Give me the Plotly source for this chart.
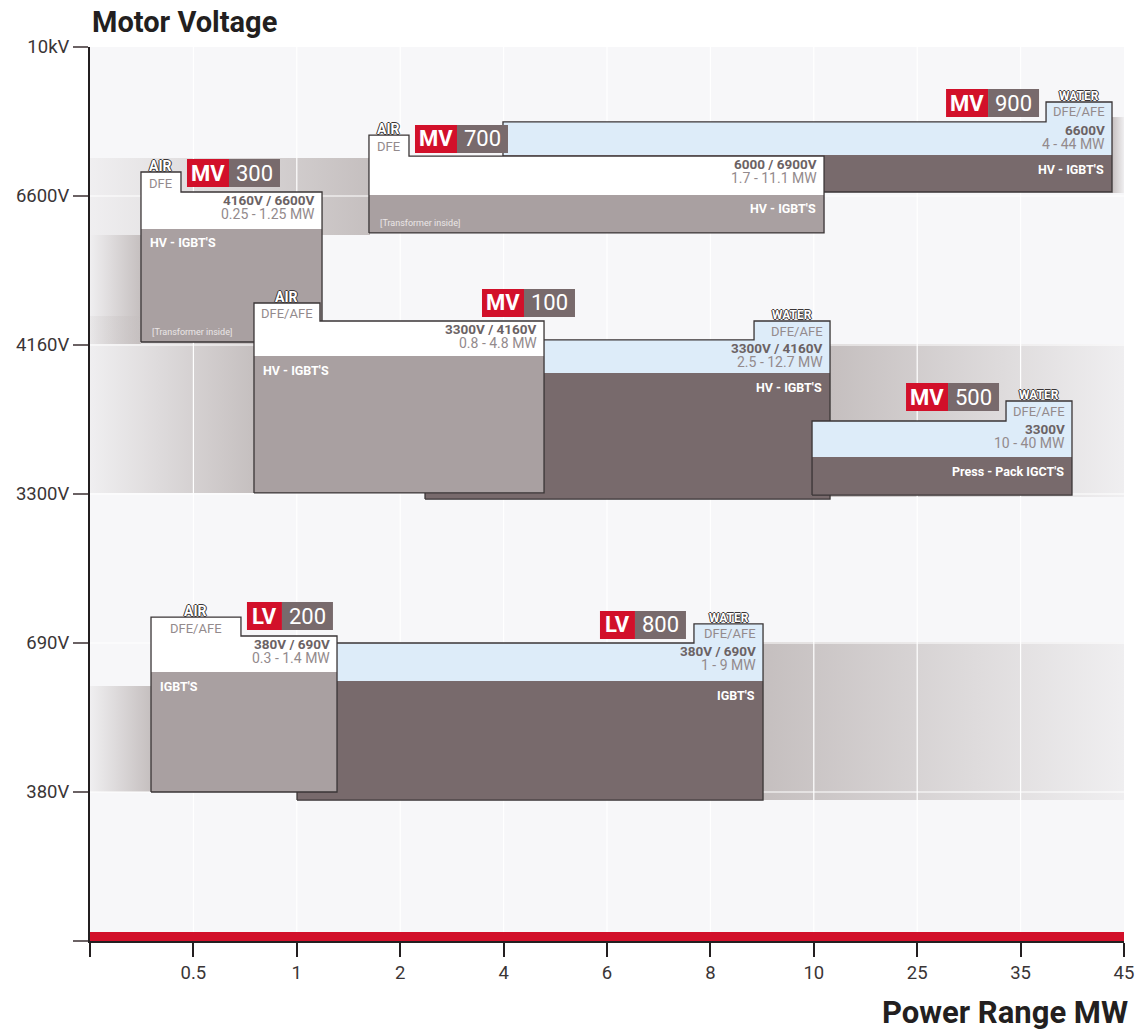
import plotly.graph_objects as go

# ---------------- axis categories ----------------
x_tick_labels = ["", "0.5", "1", "2", "4", "6", "8", "10", "25", "35", "45"]
y_tick_labels = ["", "380V", "690V", "3300V", "4160V", "6600V", "10kV"]

# ---------------- drive families (back to front) ----------------
# positions are expressed on the index scales of the two axes
series    = ["MV", "MV", "MV", "", "MV", "MV", "LV", "LV"]
model     = ["900", "700", "300", "", "100", "500", "800", "200"]
cooling   = ["WATER", "AIR", "AIR", "WATER", "AIR", "WATER", "WATER", "AIR"]
front_end = ["DFE/AFE", "DFE", "DFE", "DFE/AFE", "DFE/AFE", "DFE/AFE", "DFE/AFE", "DFE/AFE"]
motor_v   = ["6600V", "6000 / 6900V", "4160V / 6600V", "3300V / 4160V", "3300V / 4160V",
             "3300V", "380V / 690V", "380V / 690V"]
power     = ["4 - 44 MW", "1.7 - 11.1 MW", "0.25 - 1.25 MW", "2.5 - 12.7 MW", "0.8 - 4.8 MW",
             "10 - 40 MW", "1 - 9 MW", "0.3 - 1.4 MW"]
semis     = ["HV - IGBT'S", "HV - IGBT'S", "HV - IGBT'S", "HV - IGBT'S", "HV - IGBT'S",
             "Press - Pack IGCT'S", "IGBT'S", "IGBT'S"]
semis_side = ["right", "right", "left", "right", "left", "right", "right", "left"]
note      = ["", "[Transformer inside]", "[Transformer inside]", "", "", "", "", ""]

x_start  = [3.994, 2.698, 0.493, 3.240, 1.586, 6.983, 2.002, 0.590]
x_end    = [9.884, 7.099, 2.244, 7.157, 4.391, 9.497, 6.509, 2.389]
x_tab    = [9.246, 3.085, 0.880, 6.422, 2.224, 8.859, 5.841, 1.460]
y_tab    = [5.631, 5.409, 5.161, 4.161, 4.282, 3.624, 2.128, 2.174]
y_top    = [5.497, 5.268, 5.027, 4.034, 4.161, 3.490, 2.000, 2.047]
y_mid    = [5.275, 5.007, 4.779, 3.812, 3.926, 3.248, 1.745, 1.805]
y_bottom = [5.027, 4.752, 4.020, 2.966, 3.007, 2.993, 0.946, 1.000]
badge_x  = [8.279, 3.143, 0.938, None, 3.791, 7.892, 4.932, 1.518]
badge_y  = [5.530, 5.289, 5.060, None, 4.188, 3.557, 2.027, 2.087]

# ---------------- shaded coverage bands ----------------
band_x0 = [0.0, 9.884, 0.0, 0.0, 7.157, 0.0, 6.509]
band_x1 = [2.708, 10.0, 0.493, 1.596, 10.0, 0.590, 10.0]
band_y0 = [4.738, 5.020, 4.007, 3.007, 2.980, 1.000, 0.946]
band_y1 = [5.255, 5.530, 4.738, 4.195, 4.007, 1.711, 2.007]
band_dark_side = ["right", "left", "right", "right", "left", "right", "left"]

# ---------------- style ----------------
W, H = 1138, 1034
ML, MR, MT, MB = 90, 14, 47, 93
PX_X = (W - ML - MR) / (len(x_tick_labels) - 1)
PX_Y = (H - MT - MB) / (len(y_tick_labels) - 1)
def dx(p): return p / PX_X
def dy(p): return p / PX_Y

FONT = "Roboto, 'Open Sans', sans-serif"
DARK = "#231f20"
OUTLINE = "#3a3536"
RED = "#d2102a"
BADGE_GRAY = "#786a6c"
LIGHT_BOX = "#a9a0a1"
DARK_BOX = "#786a6c"
BLUE = "#ddecf9"
SPEC = "#6b6264"
SPEC2 = "#938a8c"
BAND = "197,191,191"

fig = go.Figure()

def add_poly(xs, ys, fill=None, line_color=None, width=0, gradient=None):
    kw = dict(x=list(xs) + [xs[0]], y=list(ys) + [ys[0]], mode="lines",
              hoverinfo="skip", showlegend=False,
              line=dict(color=line_color or "rgba(0,0,0,0)", width=width))
    if fill or gradient:
        kw["fill"] = "toself"
    if fill:
        kw["fillcolor"] = fill
    if gradient:
        kw["fillgradient"] = gradient
    fig.add_trace(go.Scatter(**kw))

def rect(x0, x1, y0, y1, **kw):
    add_poly([x0, x0, x1, x1], [y0, y1, y1, y0], **kw)

def label(x, y, text, size, color, weight="normal", xanchor="center", shadow="none"):
    fig.add_annotation(x=x, y=y, xref="x", yref="y", text=text, showarrow=False,
                       xanchor=xanchor, yanchor="middle",
                       font=dict(family=FONT, size=size, color=color, weight=weight, shadow=shadow))

# bands with horizontal gradients
for i in range(len(band_x0)):
    strong, weak = f"rgba({BAND},1)", f"rgba({BAND},0.15)"
    cs = [[0, weak], [1, strong]] if band_dark_side[i] == "right" else [[0, strong], [1, weak]]
    rect(band_x0[i], band_x1[i], band_y0[i], band_y1[i],
         gradient=dict(type="horizontal", colorscale=cs))

# white grid lines over the bands
gx, gy = [], []
for k in range(1, len(x_tick_labels) - 1):
    gx += [k, k, None]; gy += [dy(9), len(y_tick_labels) - 1, None]
for k in range(1, len(y_tick_labels) - 1):
    gx += [0, len(x_tick_labels) - 1, None]; gy += [k, k, None]
fig.add_trace(go.Scatter(x=gx, y=gy, mode="lines", line=dict(color="white", width=1.2),
                         hoverinfo="skip", showlegend=False))

# red base strip
rect(0, len(x_tick_labels) - 1, 0, dy(9), fill=RED)

OUTLINE_TXT = f"1px 0 0 {OUTLINE}, -1px 0 0 {OUTLINE}, 0 1px 0 {OUTLINE}, 0 -1px 0 {OUTLINE}"

for i in range(len(series)):
    x0, x1, xt = x_start[i], x_end[i], x_tab[i]
    yt, ytop, ym, yb = y_tab[i], y_top[i], y_mid[i], y_bottom[i]
    water = cooling[i] == "WATER"
    # lower (semiconductor) part
    rect(x0, x1, yb, ym, fill=DARK_BOX if water else LIGHT_BOX)
    # upper part with tab
    ux = [x0, x0, xt, xt, x1, x1]
    if water:
        uy = [ym, ytop, ytop, yt, yt, ym]
        oy = [yb, ytop, ytop, yt, yt, yb]
    else:
        uy = [ym, yt, yt, ytop, ytop, ym]
        oy = [yb, yt, yt, ytop, ytop, yb]
    add_poly(ux, uy, fill=BLUE if water else "white")
    fig.add_trace(go.Scatter(x=ux + [ux[0]], y=oy + [oy[0]], mode="lines",
                             line=dict(color=OUTLINE, width=1.3),
                             hoverinfo="skip", showlegend=False))
    # tab texts
    tab_c = (xt + x1) / 2 if water else (x0 + xt) / 2
    label(tab_c, yt + dy(6), cooling[i], 12 if water else 14, "white", "bold", shadow=OUTLINE_TXT)
    if water:
        label(x1 - dx(5), yt - dy(10), front_end[i], 13, SPEC2, xanchor="right")
    else:
        label(tab_c, yt - dy(11), front_end[i], 13, SPEC2)
    label(x1 - dx(5), ytop - dy(8), motor_v[i], 13.5, SPEC, "bold", xanchor="right")
    label(x1 - dx(5), ytop - dy(22), power[i], 14, SPEC2, xanchor="right")
    if semis_side[i] == "left":
        label(x0 + dx(7), ym - dy(14), semis[i], 12.5, "white", "bold", xanchor="left")
    else:
        label(x1 - dx(6), ym - dy(14), semis[i], 12.5, "white", "bold", xanchor="right")
    if note[i]:
        label(x0 + dx(9), yb + dy(10), note[i], 9, "#ebe7e7", xanchor="left")
    # badge
    if badge_x[i] is not None:
        rw = dx(42) if series[i] == "MV" else dx(35)
        gw = dx(51)
        bx, by = badge_x[i], badge_y[i]
        rect(bx, bx + rw, by, by + dy(28), fill=RED)
        rect(bx + rw, bx + rw + gw, by, by + dy(28), fill=BADGE_GRAY)
        label(bx + rw / 2, by + dy(14), series[i], 22, "white", "bold")
        label(bx + rw + gw / 2, by + dy(14), model[i], 22, "white")

# titles
fig.add_annotation(x=0, y=1, xref="paper", yref="paper", yshift=25, xanchor="left",
                   yanchor="middle", text="Motor Voltage", showarrow=False,
                   font=dict(family=FONT, size=29, color=DARK, weight="bold"))
fig.add_annotation(x=1, y=0, xref="paper", yref="paper", xshift=6, yshift=-71, xanchor="right",
                   yanchor="middle", text="Power Range MW", showarrow=False,
                   font=dict(family=FONT, size=31, color=DARK, weight="bold"))

tickfont = dict(family=FONT, size=18.5, color="#3a3536")
fig.update_layout(
    width=W, height=H, margin=dict(l=ML, r=MR, t=MT, b=MB, autoexpand=False),
    paper_bgcolor="white", plot_bgcolor="#f7f7f9", showlegend=False,
    xaxis=dict(range=[0, len(x_tick_labels) - 1], tickvals=list(range(len(x_tick_labels))),
               ticktext=x_tick_labels, showgrid=False, zeroline=False, showline=True,
               linecolor=DARK, linewidth=2, ticks="outside", ticklen=14, tickwidth=2,
               tickcolor=DARK, tickfont=tickfont, fixedrange=True, automargin=False),
    yaxis=dict(range=[0, len(y_tick_labels) - 1], tickvals=list(range(len(y_tick_labels))),
               ticktext=y_tick_labels, showgrid=False, zeroline=False, showline=True,
               linecolor=DARK, linewidth=2, ticks="outside", ticklen=15, tickwidth=1.5,
               tickcolor="#6b6264", tickfont=tickfont, fixedrange=True, automargin=False),
)

fig.write_html("out.html", config={"displayModeBar": False},
               post_script="document.body.style.margin='0';document.body.style.overflow='hidden';")
